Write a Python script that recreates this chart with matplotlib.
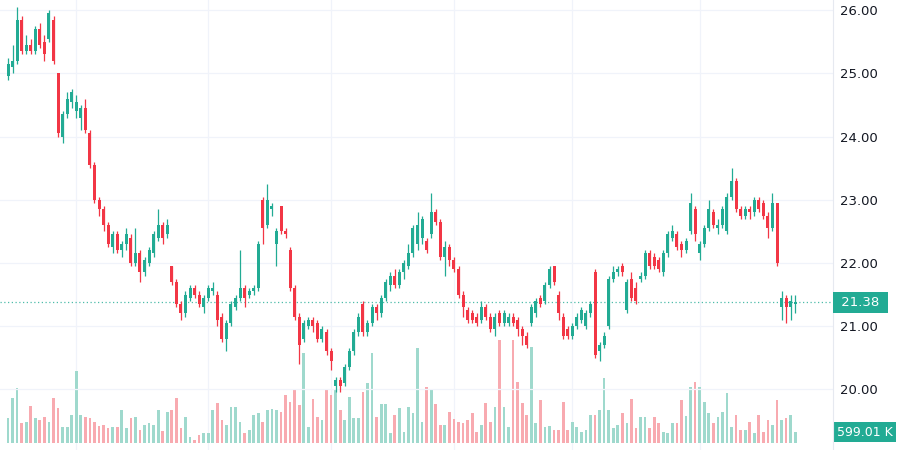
import numpy as np
import matplotlib.pyplot as plt
from matplotlib.ticker import FuncFormatter

# Daily candles, oldest first
opens = [24.95, 25.10, 25.20, 25.85, 25.35, 25.45, 25.35, 25.70, 25.50, 25.55,
         25.85, 25.00, 24.00, 24.35, 24.55, 24.40, 24.30, 24.45, 24.05, 23.55,
         23.00, 22.85, 22.60, 22.25, 22.45, 22.20, 22.30, 22.40, 22.00, 22.15,
         21.85, 22.00, 22.15, 22.40, 22.60, 22.45, 21.95, 21.70, 21.35, 21.20,
         21.45, 21.60, 21.50, 21.30, 21.45, 21.55, 21.50, 21.15, 20.80, 21.05,
         21.30, 21.45, 21.60, 21.50, 21.55, 21.60, 23.00, 22.60, 22.85, 22.30,
         22.90, 22.50, 22.20, 21.60, 21.15, 20.80, 21.00, 21.10, 21.05, 20.80,
         20.90, 20.60, 20.05, 20.15, 20.10, 20.35, 20.60, 20.90, 21.35, 20.90,
         21.05, 21.30, 21.20, 21.45, 21.65, 21.80, 21.65, 21.85, 21.95, 22.15,
         22.30, 22.40, 22.35, 22.45, 22.80, 22.65, 22.10, 22.25, 22.05, 21.90,
         21.50, 21.25, 21.20, 21.15, 21.10, 21.30, 21.15, 20.95, 21.20, 21.05,
         21.05, 21.15, 21.10, 20.95, 20.85, 21.05, 21.20, 21.45, 21.40, 21.65,
         21.95, 21.50, 21.15, 20.95, 20.85, 21.00, 21.10, 21.00, 21.20, 21.85,
         20.60, 20.70, 21.00, 21.75, 21.85, 21.95, 21.25, 21.75, 21.60, 21.75,
         21.80, 22.15, 22.10, 22.05, 21.85, 22.15, 22.40, 22.45, 22.30, 22.20,
         22.50, 22.85, 22.15, 22.30, 22.55, 22.80, 22.55, 22.60, 22.50, 23.05,
         23.30, 22.85, 22.75, 22.85, 22.80, 23.00, 22.95, 22.75, 22.55, 22.95,
         21.30, 21.45, 21.30, 21.35]
highs = [25.25, 25.45, 26.05, 25.90, 25.60, 25.55, 25.75, 25.80, 25.60, 26.00,
         25.90, 25.00, 24.40, 24.70, 24.75, 24.65, 24.50, 24.60, 24.10, 23.60,
         23.05, 22.90, 22.65, 22.50, 22.50, 22.35, 22.55, 22.45, 22.55, 22.20,
         22.10, 22.25, 22.50, 22.85, 22.65, 22.70, 21.95, 21.75, 21.40, 21.55,
         21.65, 21.65, 21.55, 21.50, 21.65, 21.70, 21.55, 21.20, 21.10, 21.40,
         21.50, 22.20, 21.65, 21.60, 21.65, 22.35, 23.05, 23.25, 22.95, 22.55,
         22.90, 22.55, 22.25, 21.65, 21.20, 21.10, 21.15, 21.15, 21.10, 21.00,
         20.95, 20.65, 20.20, 20.20, 20.40, 20.65, 20.95, 21.20, 21.40, 21.10,
         21.35, 21.35, 21.50, 21.75, 21.85, 21.90, 21.90, 22.05, 22.30, 22.60,
         22.80, 22.75, 22.40, 23.10, 22.85, 22.70, 22.35, 22.30, 22.10, 21.95,
         21.55, 21.30, 21.25, 21.20, 21.40, 21.35, 21.20, 21.20, 21.25, 21.25,
         21.20, 21.20, 21.15, 21.00, 20.90, 21.35, 21.45, 21.50, 21.70, 21.95,
         21.95, 21.55, 21.20, 21.00, 21.05, 21.20, 21.30, 21.25, 21.40, 21.90,
         20.75, 20.90, 21.80, 21.95, 21.95, 22.00, 21.75, 21.85, 21.70, 21.85,
         22.20, 22.20, 22.15, 22.10, 22.20, 22.50, 22.60, 22.50, 22.35, 22.40,
         23.10, 22.90, 22.35, 22.60, 23.00, 22.85, 22.70, 22.90, 23.10, 23.50,
         23.35, 22.90, 22.90, 22.90, 23.05, 23.05, 23.00, 22.80, 23.10, 22.95,
         21.55, 21.50, 21.50, 21.50]
lows = [24.90, 25.00, 25.15, 25.30, 25.30, 25.30, 25.30, 25.40, 25.20, 25.50,
        25.15, 24.00, 23.90, 24.30, 24.45, 24.30, 24.10, 24.05, 23.50, 22.95,
        22.75, 22.50, 22.25, 22.15, 22.15, 22.10, 22.20, 21.95, 21.95, 21.70,
        21.80, 21.95, 22.10, 22.35, 22.30, 22.40, 21.65, 21.30, 21.10, 21.15,
        21.40, 21.45, 21.30, 21.20, 21.40, 21.50, 21.00, 20.75, 20.60, 21.00,
        21.25, 21.40, 21.30, 21.45, 21.50, 21.55, 22.30, 22.55, 22.75, 21.95,
        22.45, 22.40, 21.55, 21.10, 20.40, 20.75, 20.95, 20.90, 20.75, 20.75,
        20.55, 20.30, 19.95, 19.95, 20.05, 20.30, 20.55, 20.85, 20.85, 20.85,
        21.00, 21.10, 21.15, 21.40, 21.55, 21.60, 21.60, 21.75, 21.90, 22.10,
        22.20, 22.30, 22.15, 22.40, 22.60, 22.05, 21.80, 21.95, 21.85, 21.45,
        21.15, 21.05, 21.05, 21.00, 21.05, 21.10, 20.90, 20.85, 21.00, 21.00,
        21.00, 21.00, 20.85, 20.70, 20.65, 21.00, 21.15, 21.30, 21.35, 21.60,
        21.65, 21.10, 20.80, 20.80, 20.80, 20.95, 21.05, 20.95, 21.15, 20.50,
        20.45, 20.65, 20.95, 21.70, 21.80, 21.80, 21.20, 21.40, 21.35, 21.70,
        21.75, 21.90, 21.90, 21.85, 21.80, 22.10, 22.35, 22.20, 22.10, 22.15,
        22.45, 22.35, 22.05, 22.25, 22.50, 22.55, 22.45, 22.55, 22.45, 23.00,
        22.80, 22.70, 22.70, 22.70, 22.75, 22.80, 22.70, 22.40, 22.50, 21.95,
        21.10, 21.05, 21.10, 21.20]
closes = [25.15, 25.20, 25.85, 25.35, 25.45, 25.35, 25.70, 25.45, 25.30, 25.95,
          25.20, 24.05, 24.35, 24.60, 24.70, 24.55, 24.45, 24.10, 23.55, 23.00,
          22.85, 22.60, 22.30, 22.45, 22.20, 22.30, 22.45, 22.00, 22.15, 21.85,
          22.05, 22.20, 22.45, 22.60, 22.40, 22.60, 21.70, 21.35, 21.20, 21.50,
          21.60, 21.50, 21.35, 21.45, 21.60, 21.60, 21.10, 20.80, 21.05, 21.35,
          21.45, 21.60, 21.45, 21.55, 21.60, 22.30, 22.55, 23.00, 22.90, 22.50,
          22.50, 22.45, 21.60, 21.15, 20.70, 21.05, 21.10, 21.00, 20.80, 20.95,
          20.60, 20.45, 20.15, 20.05, 20.35, 20.60, 20.90, 21.15, 20.90, 21.05,
          21.30, 21.20, 21.45, 21.70, 21.80, 21.65, 21.85, 22.00, 22.15, 22.55,
          22.60, 22.70, 22.20, 22.80, 22.65, 22.10, 22.25, 22.05, 21.90, 21.50,
          21.30, 21.10, 21.10, 21.05, 21.30, 21.15, 20.95, 21.15, 21.05, 21.20,
          21.15, 21.05, 20.95, 20.85, 20.70, 21.30, 21.40, 21.35, 21.65, 21.90,
          21.70, 21.20, 20.85, 20.85, 21.00, 21.15, 21.25, 21.20, 21.35, 20.55,
          20.70, 20.85, 21.75, 21.85, 21.90, 21.85, 21.70, 21.45, 21.40, 21.80,
          22.15, 21.95, 21.95, 21.90, 22.15, 22.45, 22.50, 22.25, 22.20, 22.35,
          22.95, 22.45, 22.30, 22.55, 22.85, 22.60, 22.60, 22.85, 23.05, 23.30,
          22.85, 22.75, 22.85, 22.80, 23.00, 22.85, 22.75, 22.55, 22.95, 22.00,
          21.45, 21.30, 21.40, 21.38]
# volume in thousands of shares
volumes = [1360, 2450, 3000, 1090, 1140, 2020, 1360, 1250, 1420, 1140,
           2450, 1910, 870, 870, 1530, 3920, 1530, 1420, 1360, 1140,
           930, 980, 820, 870, 870, 1800, 820, 1360, 1420, 710,
           980, 1090, 980, 1800, 650, 1690, 1800, 2450, 820, 1420,
           330, 160, 440, 545, 545, 1800, 2180, 1250, 980, 1960,
           1960, 1140, 545, 710, 1530, 1640, 1140, 1800, 1850, 1800,
           1690, 2620, 2230, 2890, 2070, 4900, 870, 2400, 1420, 1250,
           2940, 2620, 2940, 1800, 1250, 2510, 1360, 1360, 2780, 3270,
           4900, 1420, 2130, 2130, 545, 1530, 1910, 600, 1960, 1640,
           5180, 1140, 3050, 2890, 2130, 980, 980, 1690, 1310, 1140,
           1090, 1250, 1640, 600, 980, 2180, 1140, 1960, 5610, 1960,
           870, 5610, 3320, 2180, 1530, 5230, 1090, 2340, 870, 930,
           710, 710, 2230, 710, 1140, 870, 600, 710, 1530, 1530,
           1800, 3540, 1800, 820, 980, 1640, 1090, 2400, 820, 1420,
           1420, 820, 1420, 1090, 600, 545, 1090, 1090, 2340, 1470,
           3050, 3320, 3050, 2230, 1640, 1090, 1420, 1690, 2720, 870,
           1530, 710, 710, 1140, 545, 1530, 600, 1250, 980, 2340,
           1250, 1360, 1530, 599.01]
price_ticks = [20, 21, 22, 23, 24, 25, 26]
month_starts = [15, 44, 71, 98, 124, 152]

UP = '#22ab94'
DOWN = '#f23645'

o = np.array(opens)
h = np.array(highs)
l = np.array(lows)
c = np.array(closes)
v = np.array(volumes)
x = np.arange(len(c))
up = c >= o
cols = np.where(up, UP, DOWN)
vcols = np.where(up, '#9fd9cd', '#f8aab0')

fig = plt.figure(figsize=(9, 4.5), dpi=100)
rect = [0, 0, 833 / 900, 1]
axv = fig.add_axes(rect)
ax = fig.add_axes(rect, sharex=axv)
ax.set_zorder(2)
ax.patch.set_visible(False)

# volume pane underneath
axv.bar(x, v, width=0.6, color=vcols)
axv.set_ylim(-381, 24143)
axv.axis('off')

# grid
for p in price_ticks:
    ax.axhline(p, color='#f0f3fa', lw=0.9, zorder=0)
for m in month_starts:
    axv.axvline(m, color='#f0f3fa', lw=0.9, zorder=0)

# candles
ax.vlines(x, l, h, colors=cols, lw=0.9, zorder=3)
ax.bar(x, np.maximum(np.abs(c - o), 0.025), bottom=np.minimum(o, c),
       width=0.66, color=cols, zorder=4)

# last price line
ax.axhline(c[-1], color=UP, lw=0.9, ls=(0, (1, 2)), alpha=0.8, zorder=2)

ax.set_xlim(-1.76, 181.3)
ax.set_ylim(19.04, 26.16)
ax.set_yticks(price_ticks)
ax.yaxis.set_major_formatter(FuncFormatter(lambda val, pos: f'{val:.2f}'))
ax.yaxis.tick_right()
ax.tick_params(axis='y', length=0, pad=5, labelsize=9.5, labelcolor='#131722')
ax.set_xticks([])
for s in ['top', 'left', 'bottom']:
    ax.spines[s].set_visible(False)
ax.spines['right'].set_color('#e6e9f0')
ax.spines['right'].set_linewidth(0.8)

# value tags on the price scale
ax.text(1.005, c[-1], f' {c[-1]:.2f} ', transform=ax.get_yaxis_transform(),
        ha='left', va='center', color='white', fontsize=9.5, clip_on=False,
        bbox=dict(boxstyle='square,pad=0.3', fc=UP, ec='none'))
axv.text(1.005, v[-1], f'{v[-1]:.2f} K', transform=axv.get_yaxis_transform(),
         ha='left', va='center', color='white', fontsize=9, clip_on=False,
         bbox=dict(boxstyle='square,pad=0.25', fc=UP, ec='none'))

fig.savefig('out.png', dpi=100)
